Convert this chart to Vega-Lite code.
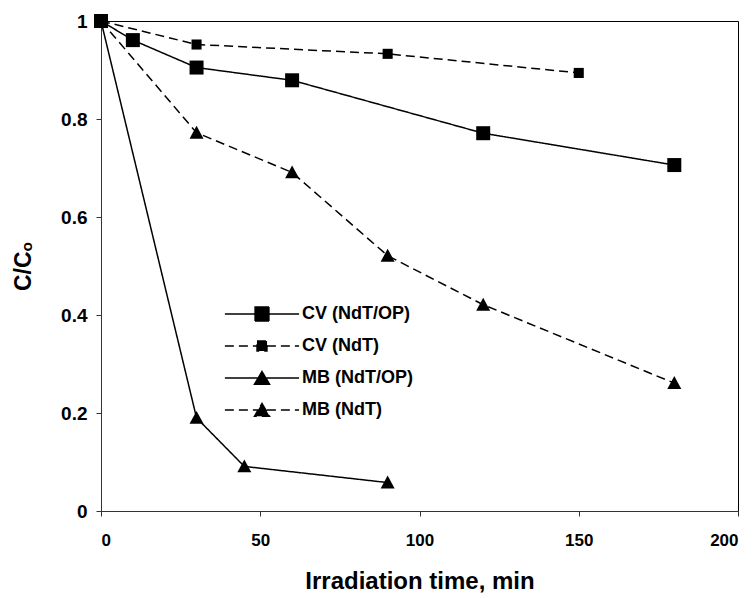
{
  "$schema": "https://vega.github.io/schema/vega-lite/v6.json",
  "width": 637,
  "height": 490,
  "autosize": "none",
  "padding": {"left": 101, "top": 21, "right": 16, "bottom": 87},
  "background": "white",
  "config": {
    "view": {"stroke": "black", "strokeWidth": 1},
    "axis": {
      "grid": false,
      "domainColor": "#333333",
      "tickColor": "#333333",
      "tickSize": 5,
      "labelFont": "Liberation Sans",
      "labelFontWeight": "bold",
      "labelColor": "black",
      "titleFont": "Liberation Sans",
      "titleFontWeight": "bold",
      "titleColor": "black"
    }
  },
  "data": {
    "values": [
      {"series": "CV (NdT/OP)", "t": 0, "c": 1.0},
      {"series": "CV (NdT/OP)", "t": 10, "c": 0.961},
      {"series": "CV (NdT/OP)", "t": 30, "c": 0.905},
      {"series": "CV (NdT/OP)", "t": 60, "c": 0.879},
      {"series": "CV (NdT/OP)", "t": 120, "c": 0.771},
      {"series": "CV (NdT/OP)", "t": 180, "c": 0.706},
      {"series": "CV (NdT)", "t": 0, "c": 1.0},
      {"series": "CV (NdT)", "t": 30, "c": 0.952},
      {"series": "CV (NdT)", "t": 90, "c": 0.933},
      {"series": "CV (NdT)", "t": 150, "c": 0.894},
      {"series": "MB (NdT/OP)", "t": 0, "c": 1.0},
      {"series": "MB (NdT/OP)", "t": 30, "c": 0.19},
      {"series": "MB (NdT/OP)", "t": 45, "c": 0.091},
      {"series": "MB (NdT/OP)", "t": 90, "c": 0.058},
      {"series": "MB (NdT)", "t": 0, "c": 1.0},
      {"series": "MB (NdT)", "t": 30, "c": 0.772},
      {"series": "MB (NdT)", "t": 60, "c": 0.691},
      {"series": "MB (NdT)", "t": 90, "c": 0.521},
      {"series": "MB (NdT)", "t": 120, "c": 0.421},
      {"series": "MB (NdT)", "t": 180, "c": 0.261}
    ]
  },
  "encoding": {
    "x": {
      "field": "t", "type": "quantitative",
      "scale": {"domain": [0, 200], "nice": false, "zero": false},
      "axis": {"values": [0, 50, 100, 150, 200], "title": "Irradiation time, min", "titleFontSize": 24, "titlePadding": 21, "labelPadding": 16, "labelFontSize": 17}
    },
    "y": {
      "field": "c", "type": "quantitative",
      "scale": {"domain": [0, 1], "nice": false},
      "axis": {"values": [0, 0.2, 0.4, 0.6, 0.8, 1], "format": "~g", "title": "C/Cₒ", "titleFontSize": 23, "titlePadding": 25, "labelPadding": 9, "labelFontSize": 19}
    }
  },
  "layer": [
    {
      "mark": {"type": "line", "color": "black", "strokeWidth": 1.5},
      "encoding": {
        "detail": {"field": "series", "type": "nominal"},
        "order": {"field": "t", "type": "quantitative"},
        "strokeDash": {
          "field": "series", "type": "nominal",
          "scale": {"domain": ["CV (NdT/OP)", "CV (NdT)", "MB (NdT/OP)", "MB (NdT)"], "range": [[1, 0], [9, 5], [1, 0], [9, 5]]},
          "legend": {
            "title": null,
            "orient": "none",
            "direction": "vertical",
            "legendX": 120,
            "legendY": 284,
            "padding": 0,
            "symbolSize": 196,
            "symbolOffset": 32,
            "labelOffset": 31,
            "rowPadding": 13,
            "symbolType": {"expr": "datum.value === 'CV (NdT/OP)' ? 'M-5.3,0H5.3M-1,-1H1V1H-1Z' : datum.value === 'CV (NdT)' ? 'M-5.3,0H5.3M-0.72,-0.72H0.72V0.72H-0.72Z' : 'M-5.3,0H5.3M0,-0.95L1.1,0.9H-1.1Z'"},
            "symbolFillColor": "black",
            "symbolStrokeColor": "black",
            "symbolStrokeWidth": 1.3,
            "labelFont": "Liberation Sans",
            "labelFontWeight": "bold",
            "labelFontSize": 18,
            "labelColor": "black"
          }
        }
      }
    },
    {
      "mark": {"type": "point", "filled": true, "color": "black", "opacity": 1, "size": 196},
      "encoding": {
        "shape": {
          "condition": [
            {"test": "datum.series === 'CV (NdT/OP)'", "value": "M-1,-1H1V1H-1Z"},
            {"test": "datum.series === 'CV (NdT)'", "value": "M-0.72,-0.72H0.72V0.72H-0.72Z"}
          ],
          "value": "M0,-1L1,0.85H-1Z"
        }
      }
    }
  ]
}
